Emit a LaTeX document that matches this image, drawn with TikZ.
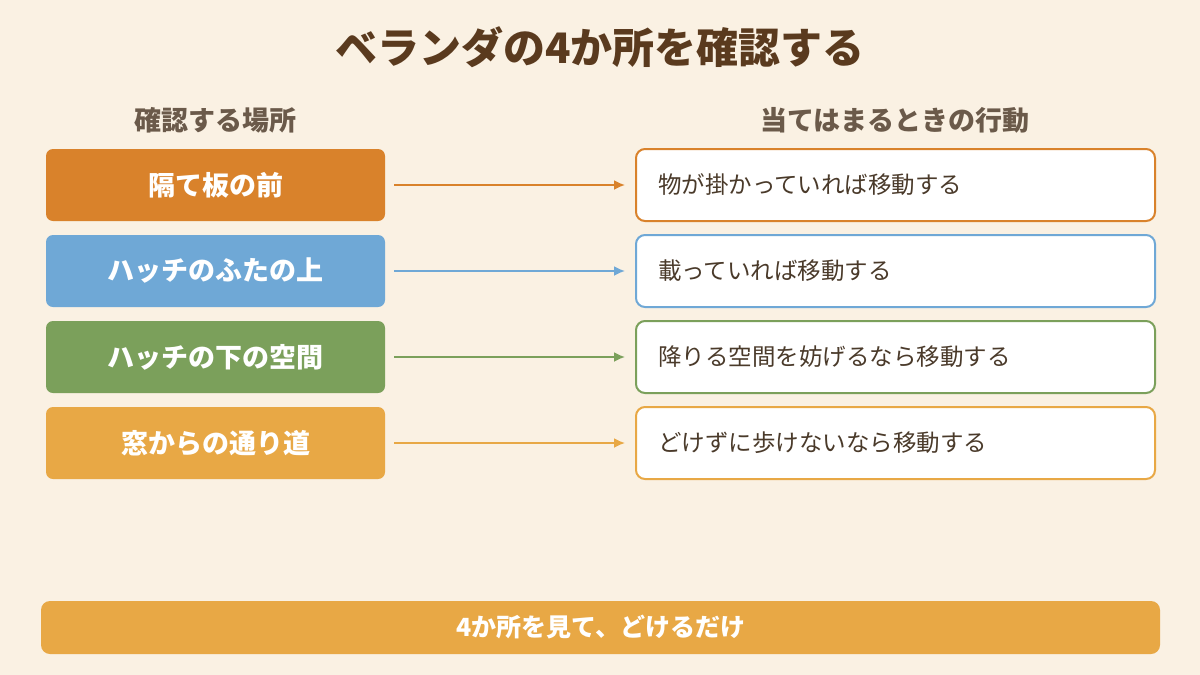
\documentclass[tikz,border=0pt]{standalone}
\usepackage{fontspec}
\setmainfont{Noto Sans CJK JP}
\usetikzlibrary{arrows.meta}
\definecolor{bg}{HTML}{FAF1E3}
\definecolor{c1}{HTML}{D9822B}
\definecolor{c2}{HTML}{6FA8D6}
\definecolor{c3}{HTML}{7BA05B}
\definecolor{c4}{HTML}{E8A845}
\definecolor{ttl}{HTML}{5A3A1E}
\definecolor{hd}{HTML}{6B5A4A}
\definecolor{tx}{HTML}{4A3A2A}
\begin{document}
\begin{tikzpicture}[x=1pt,y=-1pt,
 lbox/.style={rounded corners=7pt,minimum width=339pt,minimum height=72pt,text=white,font=\fontsize{27}{32}\selectfont\bfseries},
 rbox/.style={rounded corners=9pt,line width=2pt,fill=white,minimum width=519pt,minimum height=72pt,text width=475pt,inner xsep=22pt,align=left,text=tx,font=\fontsize{23.5}{28}\selectfont},
 arr/.style={line width=1.8pt,-{Latex[length=11pt,width=10pt]}}]
\fill[bg] (0,0) rectangle (1200,675);
\useasboundingbox (0,0) rectangle (1200,675);
\node[text=ttl,font=\fontsize{42}{48}\selectfont\bfseries] (t) at (600,47) {ベランダの4か所を確認する};
\node[text=hd,font=\fontsize{27}{32}\selectfont\bfseries] (h1) at (215,120) {確認する場所};
\node[text=hd,font=\fontsize{27}{32}\selectfont\bfseries] (h2) at (895,120) {当てはまるときの行動};
\foreach \i/\c/\l/\r in {0/c1/隔て板の前/物が掛かっていれば移動する,1/c2/ハッチのふたの上/載っていれば移動する,2/c3/ハッチの下の空間/降りる空間を妨げるなら移動する,3/c4/窓からの通り道/どけずに歩けないなら移動する}{
 \node[lbox,fill=\c] (L\i) at (215.5,185+86*\i) {\l};
 \node[rbox,draw=\c] (R\i) at (895.5,185+86*\i) {\r};
 \coordinate (a\i) at (394,185+86*\i);
 \coordinate (b\i) at (625,185+86*\i);
 \draw[arr,\c] (a\i) -- (b\i);
}
\node[fill=c4,rounded corners=9pt,minimum width=1119pt,minimum height=53pt,text=white,font=\fontsize{25}{30}\selectfont\bfseries] (bot) at (600.5,627.5) {4か所を見て、どけるだけ};
\end{tikzpicture}
\end{document}
